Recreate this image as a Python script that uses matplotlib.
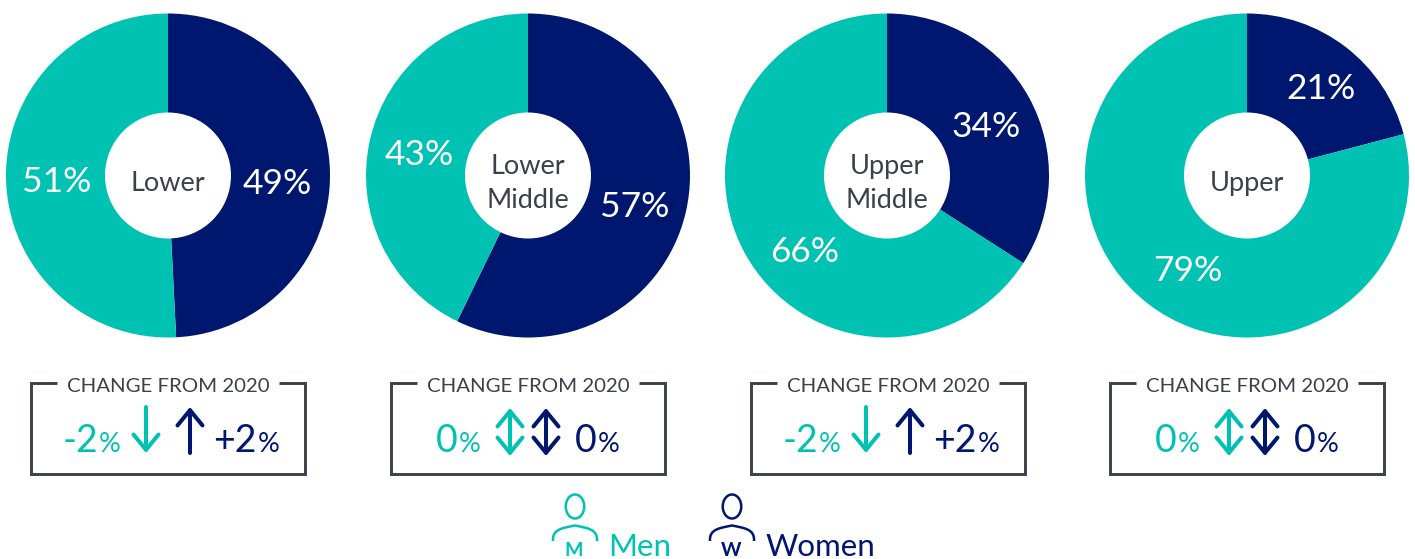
import matplotlib
matplotlib.use("Agg")
import matplotlib.pyplot as plt
from matplotlib.patches import Circle, Ellipse, PathPatch
from matplotlib.path import Path

plt.rcParams['font.family'] = ['Lato', 'DejaVu Sans']

NAVY = '#00176F'
TEAL = '#00C2B3'
GREY = '#3D3F4B'

tiers = ['Lower', 'Lower\nMiddle', 'Upper\nMiddle', 'Upper']
women_share = [49.2, 57.2, 34.1, 20.9]
men_share = [50.8, 42.8, 65.9, 79.1]
men_change = [-2, 0, -2, 0]
women_change = [2, 0, 2, 0]
box_title = 'CHANGE FROM 2020'

W, H = 1415, 559
pie_cx = [168, 528, 887, 1247]
pie_cy = 175.5
pie_r = 162
# label anchor points in pixels (women, men) for each pie
label_px = [((277, 184), (57, 182)), ((635, 207), (419, 155)),
            ((986, 127), (805, 252)), ((1321, 89), (1188, 271))]
box_left = [31, 391, 751, 1110]
box_w = 274
box_top, box_bot = 383, 474

fig = plt.figure(figsize=(W / 100, H / 100), dpi=100, facecolor='white')

for cx, tier, wv, mv, lp in zip(pie_cx, tiers, women_share, men_share, label_px):
    ax = fig.add_axes([(cx - pie_r) / W, 1 - (pie_cy + pie_r) / H, 2 * pie_r / W, 2 * pie_r / H])
    _, _, autotexts = ax.pie([wv, mv], colors=[NAVY, TEAL], startangle=90, counterclock=False,
                             radius=1, autopct='%.0f%%', pctdistance=0.68,
                             wedgeprops=dict(linewidth=0),
                             textprops=dict(color='white', fontsize=25.5))
    for at, (px, py) in zip(autotexts, lp):
        at.set_position(((px - cx) / pie_r, -(py - pie_cy) / pie_r))
    ax.set_xlim(-1, 1)
    ax.set_ylim(-1, 1)
    ax.add_patch(Circle((0, 0), 63 / pie_r, color='white', lw=0, zorder=5))
    ax.text(0, -0.05, tier, ha='center', va='center', fontsize=19.5, color=GREY,
            linespacing=1.42, zorder=6)

ov = fig.add_axes([0, 0, 1, 1], facecolor='none')
ov.set_xlim(0, W)
ov.set_ylim(H, 0)
ov.axis('off')
renderer = fig.canvas.get_renderer()

ARROW = '->,head_length=0.55,head_width=0.45'


def one_arrow(x, y_from, y_to, color):
    ov.annotate('', xy=(x, y_to), xytext=(x, y_from),
                arrowprops=dict(arrowstyle=ARROW, color=color, lw=2.9, shrinkA=0, shrinkB=0,
                                mutation_scale=20))


def arrow(x, change, color):
    if change == 0:
        y0, y1 = 408, 456
        mid = (y0 + y1) / 2
        one_arrow(x, mid, y0, color)
        one_arrow(x, mid, y1, color)
    elif change < 0:
        one_arrow(x, 407, 453, color)
    else:
        one_arrow(x, 453, 407, color)


def fmt(v):
    return f'+{v}' if v > 0 else str(v)


for left, mc, wc in zip(box_left, men_change, women_change):
    right = left + box_w
    ov.plot([left + 26, left, left, right, right, right - 26],
            [box_top, box_top, box_bot, box_bot, box_top, box_top],
            color=GREY, lw=2.1, solid_joinstyle='miter', solid_capstyle='butt')
    ov.text((left + right) / 2, box_top + 3, box_title, ha='center', va='center',
            fontsize=14.7, color=GREY)
    base = 452
    ov.text(left + 67, base, fmt(mc), ha='right', va='baseline', fontsize=27, color=TEAL)
    ov.text(left + 68, base, '%', ha='left', va='baseline', fontsize=19.5, color=TEAL)
    t = ov.text(left + (182 if wc else 184), base, fmt(wc), ha='left', va='baseline',
                fontsize=27, color=NAVY)
    xr = t.get_window_extent(renderer).x1
    ov.text(xr + 1, base, '%', ha='left', va='baseline', fontsize=19.5, color=NAVY)
    if mc:
        arrow(left + 115, mc, TEAL)
        arrow(left + 159, wc, NAVY)
    else:
        arrow(left + 119, mc, TEAL)
        arrow(left + 155, wc, NAVY)


def person(cx, color, letter, label, lx):
    ov.add_patch(Ellipse((cx, 506.5), 18.5, 24, fill=False, ec=color, lw=1.8))
    verts = [(cx - 22, 541), (cx - 23, 529), (cx - 12, 528), (cx, 525.5),
             (cx + 12, 528), (cx + 23, 529), (cx + 22, 541)]
    codes = [Path.MOVETO, Path.CURVE4, Path.CURVE4, Path.CURVE4, Path.CURVE4, Path.CURVE4, Path.CURVE4]
    ov.add_patch(PathPatch(Path(verts, codes), fill=False, ec=color, lw=1.8))
    ov.text(cx - 1, 555.5, letter, ha='center', va='baseline', fontsize=14, fontweight='bold',
            color=color)
    ov.text(lx, 556, label, ha='left', va='baseline', fontsize=22.5, color=color)


person(575, TEAL, 'M', 'Men', 608)
person(732, NAVY, 'W', 'Women', 766)

fig.savefig('out.png', dpi=100, facecolor='white')
